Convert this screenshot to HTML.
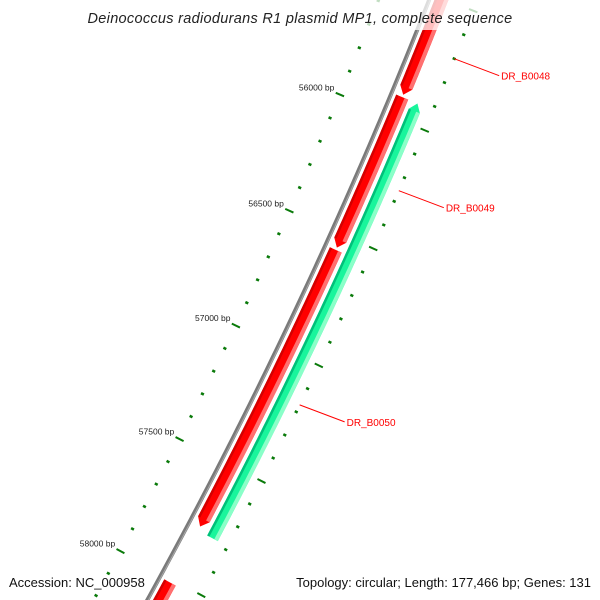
<!DOCTYPE html>
<html><head><meta charset="utf-8"><style>
html,body{margin:0;padding:0;background:#fff;overflow:hidden;width:600px;height:600px;}
svg{display:block;font-family:"Liberation Sans","DejaVu Sans",sans-serif;overflow:hidden;}
</style></head><body>
<svg id="map" width="600" height="600" viewBox="0 0 600 600" xmlns="http://www.w3.org/2000/svg">
<g id="ticks-inner"></g>
<g id="ticks-outer"></g>
<g id="backbone"></g>
<g id="genes"></g>
<g id="labels"></g>
<rect x="0" y="0" width="600" height="30" fill="#fff" opacity="0.75"/>
<text x="300" y="23" text-anchor="middle" font-size="14.5" font-style="italic" fill="#222" letter-spacing="0.3">Deinococcus radiodurans R1 plasmid MP1, complete sequence</text>
<text x="9" y="587" font-size="13" fill="#111">Accession: NC_000958</text>
<text x="591" y="587" font-size="13" fill="#111" text-anchor="end">Topology: circular; Length: 177,466 bp; Genes: 131</text>
</svg>
<script>
// data
const geneNames = ["DR_B0048-prev","DR_B0048","DR_B0049","DR_B0050-next"];
const geneStarts = [55200, 55915, 56565, 58015];
const geneEnds = [55905, 56555, 57767, 58600];
const geneStrand = [1, 1, 1, 1];
const revGeneStarts = [55915];
const revGeneEnds = [57785];
const labelTexts = ["DR_B0048","DR_B0049","DR_B0050"];
const labelBp = [55700, 56255, 57170];
const majorTicks = [55500, 56000, 56500, 57000, 57500, 58000, 58500];

const NS="http://www.w3.org/2000/svg";
const CX=-4341, CY=-1874, R0=5078, TH0=0.3981, K=4.99e-5;
function ang(bp){return TH0+(bp-56000)*K;}
function pt(bp,r){const a=ang(bp);return [CX+r*Math.cos(a), CY+r*Math.sin(a)];}
function mk(tag,parent,attrs){const e=document.createElementNS(NS,tag);for(const k in attrs)e.setAttribute(k,attrs[k]);parent.appendChild(e);return e;}
function arcPts(b0,b1,r){const out=[];const n=Math.max(2,Math.ceil(Math.abs(b1-b0)/20));for(let i=0;i<=n;i++){out.push(pt(b0+(b1-b0)*i/n,r));}return out;}
const fmt=p=>p.map(q=>q[0].toFixed(2)+","+q[1].toFixed(2)).join(" ");

// rulers
const gi=document.getElementById('ticks-inner'), go=document.getElementById('ticks-outer');
for(let bp=55000;bp<=58600;bp+=100){
  const major=majorTicks.includes(bp);
  [[gi,R0],[go,R0+92]].forEach(([g,r])=>{
    const h=major?4.5:1.6;
    const a=pt(bp,r-h), b=pt(bp,r+h);
    const l=mk('line',g,{x1:a[0],y1:a[1],x2:b[0],y2:b[1],stroke:'#0a7a0a','stroke-width':major?2:2.6});
    
    
  });
  if(major){
    const p=pt(bp,R0-6);
    const t=mk('text',gi,{x:p[0],y:p[1]-2,'text-anchor':'end','font-size':'8.5',fill:'#222'});
    t.textContent=bp+' bp';
    
    
  }
}
// backbone
const bb=document.getElementById('backbone');
let l1=mk('polyline',bb,{points:fmt(arcPts(54800,58800,R0+47)),fill:'none',stroke:'#7a7a7a','stroke-width':4});


let l2=mk('polyline',bb,{points:fmt(arcPts(54800,58800,R0+48)),fill:'none',stroke:'#a8a8a8','stroke-width':1});



// genes
const gg=document.getElementById('genes');
function gene(b0,b1,ri,ro,dir,cols,name){
  const tip=8/(R0*K);
  const g=mk('g',gg,{});
  
  
  const mid=(ri+ro)/2;
  const bands=[[ri,ro,cols[0]],[ri,ri+2.5,cols[1]],[ro-4,ro,cols[2]]];
  bands.forEach(([a,b,c],idx)=>{
    let pts;
    if(dir>0){
      const e=b1-tip;
      if(idx===0) pts=arcPts(b0,e,b).concat([pt(b1,mid)]).concat(arcPts(e,b0,a));
      else pts=arcPts(b0,e,b).concat(arcPts(e,b0,a));
    } else {
      const s=b0+tip;
      if(idx===0) pts=[pt(b0,mid)].concat(arcPts(s,b1,b)).concat(arcPts(b1,s,a));
      else pts=arcPts(s,b1,b).concat(arcPts(b1,s,a));
    }
    const p=mk('polygon',g,{points:fmt(pts),fill:c});
    
    
  });
}
for(let i=0;i<geneStarts.length;i++){
  gene(geneStarts[i],geneEnds[i],R0+52,R0+65,geneStrand[i],['#ff0000','#d40000','#ff7070'],'gene-'+geneNames[i].toLowerCase());
}
for(let i=0;i<revGeneStarts.length;i++){
  gene(revGeneStarts[i],revGeneEnds[i],R0+69,R0+81,-1,['#19f59c','#00c07a','#8affc8'],'gene-reverse-'+i);
}
// labels
const gl=document.getElementById('labels');
for(let i=0;i<labelTexts.length;i++){
  const a=pt(labelBp[i],R0+92), b=[a[0]+45,a[1]+17];
  const ln=mk('line',gl,{x1:a[0],y1:a[1],x2:b[0],y2:b[1],stroke:'#ff0000','stroke-width':1});
  
  
  const t=mk('text',gl,{x:b[0]+2,y:b[1]+4,'font-size':'10',fill:'#ff0000'});
  t.textContent=labelTexts[i];
  
  
}
</script>
</body></html>
